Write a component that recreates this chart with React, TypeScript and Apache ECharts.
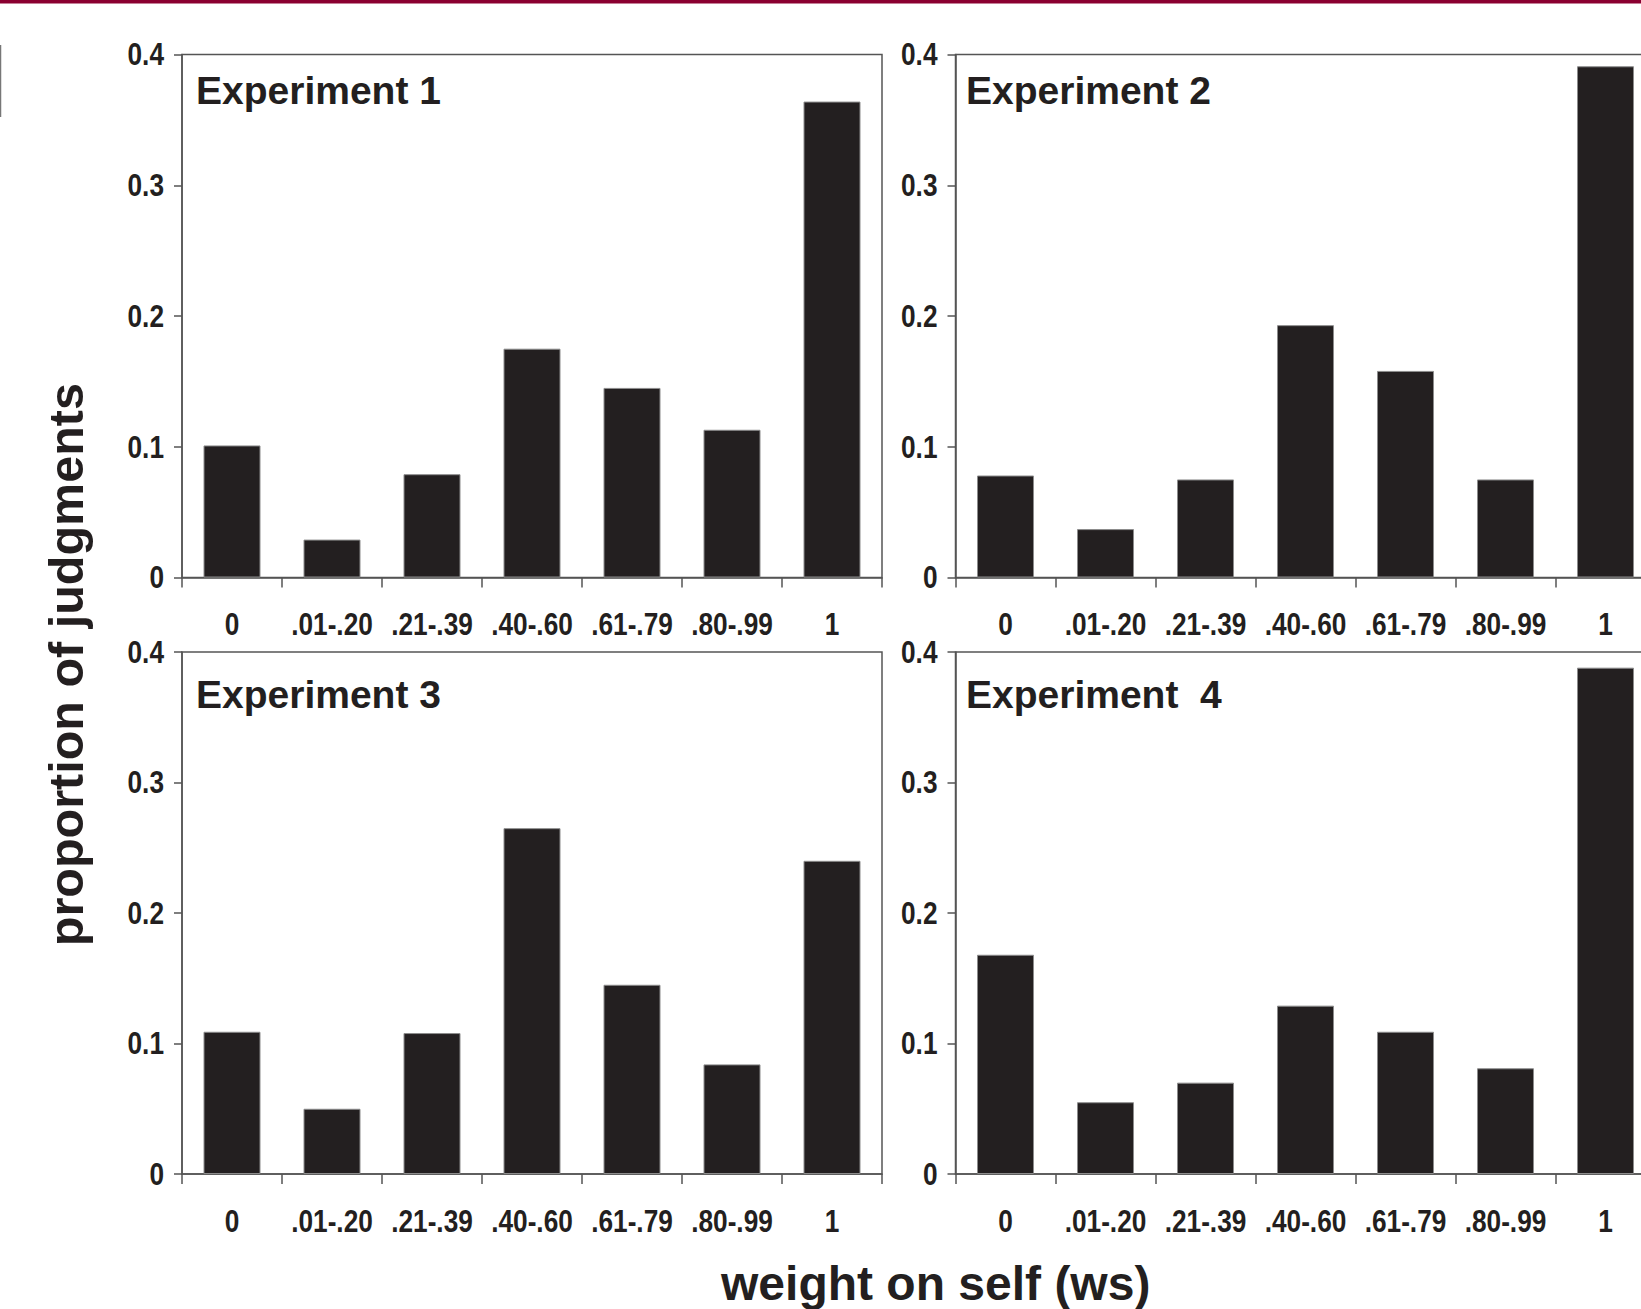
import React, { useEffect, useRef } from "react";
import * as echarts from "echarts";

const categories = ["0", ".01-.20", ".21-.39", ".40-.60", ".61-.79", ".80-.99", "1"];
const exp1 = [0.101, 0.029, 0.079, 0.175, 0.145, 0.113, 0.364];
const exp2 = [0.078, 0.037, 0.075, 0.193, 0.158, 0.075, 0.391];
const exp3 = [0.109, 0.05, 0.108, 0.265, 0.145, 0.084, 0.24];
const exp4 = [0.168, 0.055, 0.07, 0.129, 0.109, 0.081, 0.388];
const panelData = [exp1, exp2, exp3, exp4];
const panelTitles = ["Experiment 1", "Experiment 2", "Experiment 3", "Experiment  4"];
const yTicks = [0, 0.1, 0.2, 0.3, 0.4];
const yTickLabels = ["0", "0.1", "0.2", "0.3", "0.4"];
const yMin = 0;
const yMax = 0.4;
const yStep = 0.1;
const yAxisTitle = "proportion of judgments";
const xAxisTitle = "weight on self (ws)";

const SANS = "'Liberation Sans', Arial, Helvetica, sans-serif";
const INK = "#231f20";
const AXIS = "#555555";
const NARROW_SCALE = 0.82;

const gridPos = [
  { left: 182, top: 54.5, width: 700, height: 523 },
  { left: 955.5, top: 54.5, width: 700, height: 523 },
  { left: 182, top: 652, width: 700, height: 522 },
  { left: 955.5, top: 652, width: 700, height: 522 },
];
const titlePos = [
  { left: 196, top: 71 },
  { left: 966, top: 71 },
  { left: 196, top: 675 },
  { left: 966, top: 675 },
];

export default function App() {
  const ref = useRef<HTMLDivElement>(null);
  useEffect(() => {
    document.body.style.margin = "0";
    if (!ref.current) return;
    const chart = echarts.init(ref.current, undefined, { renderer: "svg" });
    const staticGraphics: any[] = [
      {
        type: "rect",
        shape: { x: 0, y: 0, width: 1700, height: 3.5 },
        style: { fill: "#8a0030" },
      },
      {
        type: "line",
        shape: { x1: 0.5, y1: 45, x2: 0.5, y2: 117 },
        style: { stroke: "#777", lineWidth: 1.5 },
      },
      {
        type: "text",
        x: 66,
        y: 664.6,
        rotation: Math.PI / 2,
        style: {
          text: yAxisTitle,
          fontSize: 48.5,
          fontWeight: "bold",
          fontFamily: SANS,
          fill: INK,
          align: "center",
          verticalAlign: "middle",
        },
      },
      {
        type: "text",
        x: 935.7,
        y: 1283,
        style: {
          text: xAxisTitle,
          fontSize: 48,
          fontWeight: "bold",
          fontFamily: SANS,
          fill: INK,
          align: "center",
          verticalAlign: "middle",
        },
      },
    ];
    const option: any = {
      animation: false,
      backgroundColor: "#ffffff",
      title: panelTitles.map((t, i) => ({
        text: t,
        left: titlePos[i].left,
        top: titlePos[i].top,
        padding: 0,
        textStyle: { fontSize: 39, fontWeight: "bold", fontFamily: SANS, color: INK },
      })),
      grid: gridPos.map((g) => ({
        ...g,
        show: true,
        borderColor: AXIS,
        borderWidth: 1.5,
        backgroundColor: "transparent",
        containLabel: false,
      })),
      xAxis: gridPos.map((_, i) => ({
        type: "category",
        gridIndex: i,
        data: categories,
        boundaryGap: true,
        axisLine: { show: true, lineStyle: { color: AXIS, width: 1.5 } },
        axisTick: { show: true, length: 10, inside: false, lineStyle: { color: AXIS, width: 1.5 } },
        axisLabel: { show: false },
        splitLine: { show: false },
      })),
      yAxis: gridPos.map((_, i) => ({
        type: "value",
        gridIndex: i,
        min: yMin,
        max: yMax,
        interval: yStep,
        axisLine: { show: true, lineStyle: { color: AXIS, width: 1.5 } },
        axisTick: { show: true, length: 8, inside: false, lineStyle: { color: AXIS, width: 1.5 } },
        axisLabel: { show: false },
        splitLine: { show: false },
      })),
      series: panelData.map((d, i) => ({
        type: "bar",
        xAxisIndex: i,
        yAxisIndex: i,
        data: d,
        barWidth: "57%",
        itemStyle: { color: INK, borderColor: "#8c8c8c", borderWidth: 1 },
      })),
      graphic: staticGraphics,
    };
    chart.setOption(option);

    // Tick labels in a narrow (Arial Narrow-like) face, positioned through the axes' own scales.
    const labelGraphics: any[] = [];
    panelData.forEach((_, i) => {
      const finder = { xAxisIndex: i, yAxisIndex: i };
      const p0 = chart.convertToPixel(finder, [0, 0]) as number[];
      const p1 = chart.convertToPixel(finder, [1, 0]) as number[];
      const band = p1[0] - p0[0];
      const axisX = p0[0] - band / 2;
      const axisY = p0[1];
      categories.forEach((c, ci) => {
        const p = chart.convertToPixel(finder, [ci, 0]) as number[];
        labelGraphics.push({
          type: "text",
          x: p[0],
          y: axisY + 47,
          scaleX: NARROW_SCALE,
          style: {
            text: c,
            fontSize: 32,
            fontWeight: "bold",
            fontFamily: SANS,
            fill: INK,
            align: "center",
            verticalAlign: "middle",
          },
        });
      });
      yTicks.forEach((v, vi) => {
        const p = chart.convertToPixel(finder, [0, v]) as number[];
        labelGraphics.push({
          type: "text",
          x: axisX - 18,
          y: p[1],
          scaleX: NARROW_SCALE,
          style: {
            text: yTickLabels[vi],
            fontSize: 32,
            fontWeight: "bold",
            fontFamily: SANS,
            fill: INK,
            align: "right",
            verticalAlign: "middle",
          },
        });
      });
    });
    chart.setOption({ graphic: [...staticGraphics, ...labelGraphics] });
    return () => chart.dispose();
  }, []);
  return (
    <div style={{ width: 1641, height: 1309, overflow: "hidden", position: "relative" }}>
      <div ref={ref} style={{ width: 1700, height: 1309 }} />
    </div>
  );
}
